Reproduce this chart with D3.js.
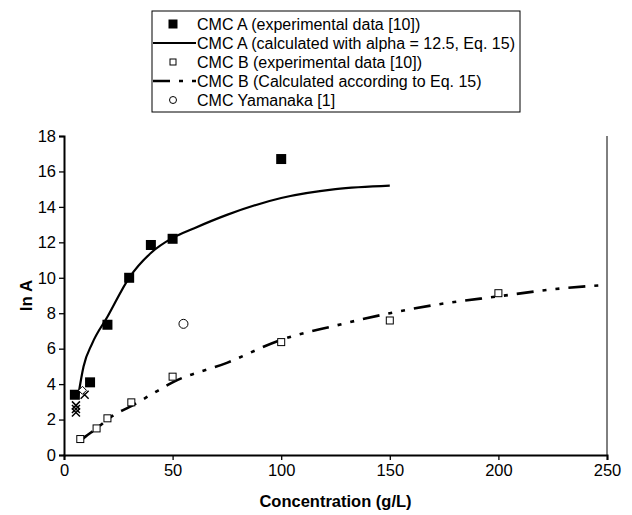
<!DOCTYPE html>
<html>
<head>
<meta charset="utf-8">
<script src="https://cdn.jsdelivr.net/npm/d3@7"></script>
<style>
  body { margin: 0; background: #fff; }
  text { font-family: "Liberation Sans", Arial, sans-serif; fill: #000; }
</style>
</head>
<body>
<svg id="chart" width="632" height="515"></svg>
<script>
// CMC A experimental (filled squares)
const aExpX = [5, 12, 20, 30, 40, 50, 100];
const aExpY = [3.4, 4.1, 7.35, 10.0, 11.85, 12.2, 16.7];

// CMC A calculated, alpha = 12.5 (solid)
const aCalcX = [6.5, 9, 13, 20, 30, 40, 50, 60, 75, 100, 125, 150];
const aCalcY = [3.3, 5.0, 6.3, 7.8, 10.0, 11.4, 12.25, 12.8, 13.55, 14.5, 15.0, 15.2];

// CMC B experimental (open squares)
const bExpX = [7.5, 15, 20, 31, 50, 100, 150, 200];
const bExpY = [0.9, 1.5, 2.07, 2.97, 4.42, 6.37, 7.59, 9.13];

// CMC B calculated (long dash dot dot)
const bCalcX = [7, 10, 15, 20, 25, 30, 40, 50, 75, 100, 125, 150, 175, 200, 225, 250];
const bCalcY = [0.75, 1.05, 1.5, 2.0, 2.4, 2.7, 3.4, 4.1, 5.2, 6.5, 7.3, 8.0, 8.55, 8.95, 9.35, 9.6];

// CMC Yamanaka (open circle)
const yamX = [55];
const yamY = [7.4];

// unlabelled markers near the origin
const crossX = [5.5, 5.5, 5.5, 9.5];
const crossY = [2.4, 2.6, 2.8, 3.4];
const diamondX = [8.5];
const diamondY = [3.65];

const xTicks = [0, 50, 100, 150, 200, 250];
const yTicks = [0, 2, 4, 6, 8, 10, 12, 14, 16, 18];

const legendLabels = [
  "CMC A (experimental data [10])",
  "CMC A (calculated with alpha = 12.5, Eq. 15)",
  "CMC B (experimental data [10])",
  "CMC B (Calculated according to Eq. 15)",
  "CMC Yamanaka [1]"
];

const zip = (xs, ys) => xs.map((x, i) => [x, ys[i]]);

const margin = { left: 64, right: 25, top: 136, bottom: 60 };
const width = 632, height = 515;

const svg = d3.select("#chart");

const x = d3.scaleLinear().domain([0, 250]).range([margin.left, width - margin.right]);
const y = d3.scaleLinear().domain([0, 18]).range([height - margin.bottom, margin.top]);

// right border of plot area
svg.append("line")
  .attr("x1", x(250)).attr("x2", x(250))
  .attr("y1", y(18)).attr("y2", y(0))
  .attr("stroke", "#000").attr("stroke-width", 1);

const line = d3.line()
  .x(d => x(d[0]))
  .y(d => y(d[1]))
  .curve(d3.curveMonotoneX);

const dashB = "17,9,4,9,4,9";

svg.append("path")
  .datum(zip(aCalcX, aCalcY))
  .attr("d", line)
  .attr("fill", "none")
  .attr("stroke", "#000")
  .attr("stroke-width", 2.2);

svg.append("path")
  .datum(zip(bCalcX, bCalcY))
  .attr("d", line)
  .attr("fill", "none")
  .attr("stroke", "#000")
  .attr("stroke-width", 2.6)
  .attr("stroke-dasharray", dashB);

// markers
const sqA = 10, sqB = 7;
svg.append("g").selectAll("rect")
  .data(zip(aExpX, aExpY))
  .join("rect")
  .attr("x", d => x(d[0]) - sqA / 2)
  .attr("y", d => y(d[1]) - sqA / 2)
  .attr("width", sqA).attr("height", sqA)
  .attr("fill", "#000");

svg.append("g").selectAll("rect")
  .data(zip(bExpX, bExpY))
  .join("rect")
  .attr("x", d => x(d[0]) - sqB / 2)
  .attr("y", d => y(d[1]) - sqB / 2)
  .attr("width", sqB).attr("height", sqB)
  .attr("fill", "#fff")
  .attr("stroke", "#000")
  .attr("stroke-width", 1);

svg.append("g").selectAll("circle")
  .data(zip(yamX, yamY))
  .join("circle")
  .attr("cx", d => x(d[0]))
  .attr("cy", d => y(d[1]))
  .attr("r", 4.5)
  .attr("fill", "#fff")
  .attr("stroke", "#000")
  .attr("stroke-width", 1);

svg.append("g").selectAll("path")
  .data(zip(crossX, crossY))
  .join("path")
  .attr("transform", d => `translate(${x(d[0])},${y(d[1])})`)
  .attr("d", "M-4,-4L4,4M-4,4L4,-4")
  .attr("stroke", "#000")
  .attr("stroke-width", 1.5);

svg.append("g").selectAll("path")
  .data(zip(diamondX, diamondY))
  .join("path")
  .attr("transform", d => `translate(${x(d[0])},${y(d[1])})`)
  .attr("d", "M0,-4L4,0L0,4L-4,0Z")
  .attr("fill", "#fff")
  .attr("stroke", "#000")
  .attr("stroke-width", 1);

// axes
const xAxis = svg.append("g")
  .attr("transform", `translate(0,${y(0)})`)
  .call(d3.axisBottom(x).tickValues(xTicks).tickSize(5).tickPadding(4));

const yAxis = svg.append("g")
  .attr("transform", `translate(${x(0)},0)`)
  .call(d3.axisLeft(y).tickValues(yTicks).tickSize(5).tickPadding(3));

[xAxis, yAxis].forEach(g => {
  g.select(".domain").attr("stroke", "#000").attr("stroke-width", 2);
  g.selectAll(".tick line").attr("stroke", "#000").attr("stroke-width", 1.3);
  g.selectAll(".tick text")
    .style("font-family", "'Liberation Sans', Arial, sans-serif")
    .style("font-size", "16.5px")
    .attr("fill", "#000");
});

svg.append("text")
  .attr("x", (x(0) + x(250)) / 2)
  .attr("y", 507)
  .attr("text-anchor", "middle")
  .style("font-size", "16.5px")
  .style("font-weight", "bold")
  .text("Concentration (g/L)");

svg.append("text")
  .attr("transform", `translate(32,${(y(0) + y(18)) / 2}) rotate(-90)`)
  .attr("text-anchor", "middle")
  .style("font-size", "17px")
  .style("font-weight", "bold")
  .text("ln A");

// legend
const lg = svg.append("g");
const lgLeft = 152, lgTop = 11, lgW = 368, lgH = 101;
lg.append("rect")
  .attr("x", lgLeft).attr("y", lgTop)
  .attr("width", lgW).attr("height", lgH)
  .attr("fill", "#fff").attr("stroke", "#000").attr("stroke-width", 1);

const rowY = i => lgTop + 13 + i * 19;
const mx = 173;

legendLabels.forEach((label, i) => {
  lg.append("text")
    .attr("x", 197)
    .attr("y", rowY(i))
    .attr("dy", "0.35em")
    .style("font-size", "16px")
    .text(label);
});

lg.append("rect")
  .attr("x", mx - 4.5).attr("y", rowY(0) - 4.5)
  .attr("width", 9).attr("height", 9).attr("fill", "#000");
lg.append("line")
  .attr("x1", lgLeft + 1).attr("x2", 196)
  .attr("y1", rowY(1)).attr("y2", rowY(1))
  .attr("stroke", "#000").attr("stroke-width", 2.2);
lg.append("rect")
  .attr("x", mx - 3).attr("y", rowY(2) - 3)
  .attr("width", 6).attr("height", 6)
  .attr("fill", "#fff").attr("stroke", "#000");
lg.append("line")
  .attr("x1", lgLeft + 1).attr("x2", 196)
  .attr("y1", rowY(3)).attr("y2", rowY(3))
  .attr("stroke", "#000").attr("stroke-width", 2.6)
  .attr("stroke-dasharray", dashB);
lg.append("circle")
  .attr("cx", mx).attr("cy", rowY(4))
  .attr("r", 3.5)
  .attr("fill", "#fff").attr("stroke", "#000");
</script>
</body>
</html>
